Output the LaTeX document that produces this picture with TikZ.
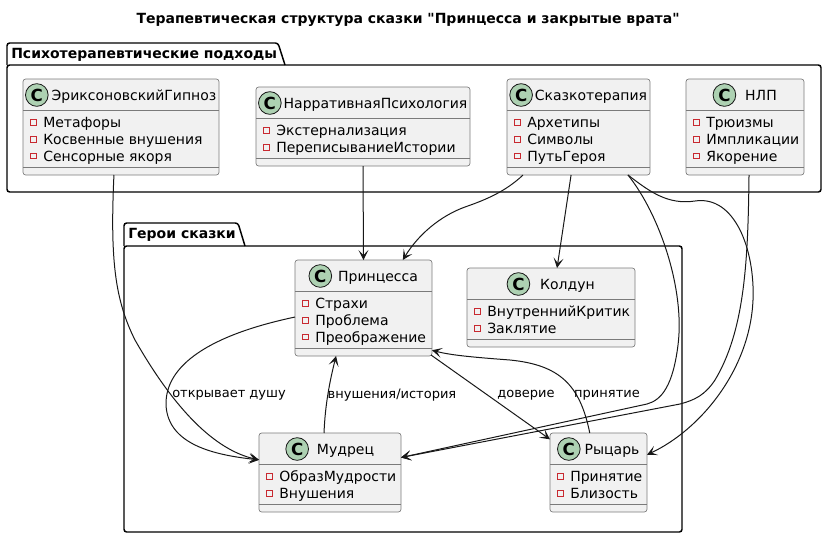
\documentclass[tikz,border=0pt]{standalone}
\usepackage{fontspec}
\setmainfont{DejaVu Sans}[Ligatures=TeXOff]
\usetikzlibrary{arrows.meta,calc}
\definecolor{cfill}{HTML}{F1F1F1}
\definecolor{cline}{HTML}{181818}
\definecolor{cbord}{HTML}{7A7A7A}
\definecolor{cgreen}{HTML}{ADD1B2}
\definecolor{cred}{HTML}{C82930}

\tikzset{
  classbox/.style={draw=cbord,line width=0.5pt,fill=cfill,rounded corners=2pt,inner sep=0pt,outer sep=0pt},
  sepline/.style={draw=cbord,line width=0.5pt},
  ctitle/.style={inner sep=0pt,text height=7.7pt,text depth=0pt,font=\fontsize{10.5}{12}\selectfont},
  cicon/.style={circle,draw=cline,line width=0.6pt,fill=cgreen,inner sep=0pt,minimum size=17pt,font=\fontsize{12.5}{12.5}\selectfont\bfseries},
  attr/.style={anchor=west,inner sep=0pt,text height=7.7pt,text depth=0pt,font=\fontsize{10.5}{12}\selectfont},
  attrsq/.style={draw=cred,line width=0.6pt},
  pkg/.style={draw=black,line width=1.1pt},
  pkglabel/.style={anchor=west,inner sep=0pt,font=\fontsize{10.5}{12}\selectfont\bfseries},
  edge/.style={draw=cline,line width=0.75pt,-{Stealth[length=7.5pt,width=7.5pt,inset=3.8pt]}},
  elabel/.style={inner sep=0pt,font=\fontsize{9.75}{11}\selectfont},
}

% #1 id, #2 x1, #3 y1, #4 x2, #5 title, #6 attrs, #7 count, #8 gap(px)
\newcommand{\umlclass}[8]{%
  \pgfmathsetmacro\ua{#3+31}%
  \pgfmathsetmacro\ub{#3+37+17*#7}%
  \pgfmathsetmacro\uc{\ub+8}%
  \pgfmathsetmacro\uw{(#4-#2)*0.75}%
  \pgfmathsetmacro\uh{(\uc-#3)*0.75}%
  \pgfmathsetmacro\ug{(23+#8)*0.75}%
  \node[classbox,minimum width=\uw pt,minimum height=\uh pt,anchor=north west] (#1) at (#2,#3) {};%
  \draw[sepline] (#2,\ua) -- (#4,\ua) (#2,\ub) -- (#4,\ub);%
  \node[ctitle] (#1t) at ({(#2+#4)/2},#3+16) {\hspace*{\ug pt}#5};%
  \node[cicon] (#1c) at ([xshift=8.6pt]#1t.west) {C};%
  \foreach \t [count=\i] in {#6} {%
    \pgfmathsetmacro\yy{\ua+12.5+16.7*(\i-1)}%
    \draw[attrsq] (#2+7.5,\yy-2.8) rectangle (#2+13,\yy+2.8);%
    \node[attr] at (#2+20,\yy) {\t};%
  }%
}

\begin{document}
\begin{tikzpicture}[x=0.75pt,y=-0.75pt]
\useasboundingbox (0,0) rectangle (827,536);

% title
\node[inner sep=0pt,font=\fontsize{10.5}{12}\selectfont\bfseries] (title) at (408,20) {Терапевтическая структура сказки "Принцесса и закрытые врата"};

% package 1
\draw[pkg,rounded corners=2pt] (7,65) -- (7,43) -- (278,43) -- (285,65);
\draw[pkg,rounded corners=2pt] (7,65) rectangle (821,192);
\node[pkglabel] (p1) at (11,54.5) {Психотерапевтические подходы};

% package 2
\draw[pkg,rounded corners=2pt] (124,246) -- (124,223) -- (238,223) -- (245,246);
\draw[pkg,rounded corners=2pt] (124,246) rectangle (682,532);
\node[pkglabel] (p2) at (128,234.5) {Герои сказки};

% classes
\umlclass{erik}{23}{79}{219}{ЭриксоновскийГипноз}{Метафоры,Косвенные внушения,Сенсорные якоря}{3}{3}
\umlclass{narr}{256}{87}{470}{НарративнаяПсихология}{Экстернализация,ПереписываниеИстории}{2}{2}
\umlclass{skaz}{507}{79}{650}{Сказкотерапия}{Архетипы,Символы,ПутьГероя}{3}{2}
\umlclass{nlp}{686}{79}{804}{НЛП}{Трюизмы,Импликации,Якорение}{3}{9}
\umlclass{princ}{295}{260}{432}{Принцесса}{Страхи,Проблема,Преображение}{3}{6}
\umlclass{kold}{467}{268}{635}{Колдун}{ВнутреннийКритик,Заклятие}{2}{10}
\umlclass{mudr}{259}{433}{401}{Мудрец}{ОбразМудрости,Внушения}{2}{8}
\umlclass{ryc}{550}{433}{647}{Рыцарь}{Принятие,Близость}{2}{4}

% edges
\draw[edge] ($(erik.south west)!0.464!(erik.south east)$) .. controls (110,260) and (115,300) .. (135,340) .. controls (175,410) and (215,450) .. ($(mudr.north west)!0.34!(mudr.south west)$);
\draw[edge] (narr.south) -- (princ.north);
\draw[edge] ($(skaz.south west)!0.112!(skaz.south east)$) .. controls (505,192) and (485,200) .. (465,207) .. controls (440,216) and (418,235) .. ($(princ.north west)!0.787!(princ.north east)$);
\draw[edge] ($(skaz.south west)!0.448!(skaz.south east)$) -- ($(kold.north west)!0.536!(kold.north east)$);
\draw[edge] ($(skaz.south west)!0.846!(skaz.south east)$) .. controls (660,215) and (685,290) .. (678,345) .. controls (673,385) and (662,400) .. (647,404) -- ($(mudr.north east)!0.31!(mudr.south east)$);
\draw[edge] ($(skaz.south west)!0.846!(skaz.south east)$) .. controls (650,192) and (668,205) .. (695,201) .. controls (735,195) and (755,250) .. (753,300) .. controls (750,370) and (700,430) .. ($(ryc.north east)!0.275!(ryc.south east)$);
\draw[edge] ($(nlp.south west)!0.534!(nlp.south east)$) .. controls (748,260) and (745,330) .. (715,380) .. controls (705,395) and (695,400) .. (680,404) -- ($(mudr.north east)!0.31!(mudr.south east)$);
\draw[edge] ($(princ.north west)!0.594!(princ.south west)$) .. controls (210,335) and (165,365) .. (166,405) .. controls (168,445) and (215,455) .. ($(mudr.north west)!0.34!(mudr.south west)$);
\draw[edge] ($(mudr.north west)!0.458!(mudr.north east)$) .. controls (325,405) and (330,380) .. ($(princ.south west)!0.30!(princ.south east)$);
\draw[edge] ($(princ.south east)+(-1,-1)$) -- ($(ryc.north west)!0.08!(ryc.south west)$);
\draw[edge] ($(ryc.north west)!0.41!(ryc.north east)$) .. controls (580,385) and (560,365) .. (510,360) .. controls (470,357) and (450,355) .. ($(princ.north east)!0.94!(princ.south east)$);

% edge labels
\node[elabel] (l1) at (229,395) {открывает душу};
\node[elabel] (l2) at (392,395) {внушения/история};
\node[elabel] (l3) at (526,395) {доверие};
\node[elabel] (l4) at (607,395) {принятие};
\end{tikzpicture}
\end{document}
